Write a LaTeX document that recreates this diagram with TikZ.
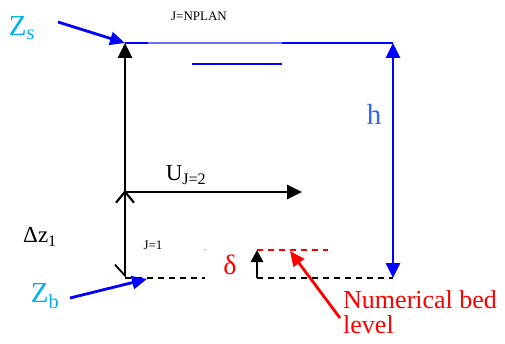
\documentclass[tikz,border=0pt]{standalone}
\usepackage{fontspec}
\setmainfont{Liberation Serif}
\usetikzlibrary{arrows.meta}
\definecolor{zcyan}{RGB}{0,176,240}
\definecolor{hblue}{RGB}{51,102,255}
\definecolor{lightline}{RGB}{110,110,255}
\tikzset{
  big/.style={font=\fontsize{29}{31}\selectfont, inner sep=0pt},
  mid/.style={font=\fontsize{23}{25}\selectfont, inner sep=0pt},
  small/.style={font=\fontsize{13}{15}\selectfont, inner sep=0pt},
  thickblack/.style={line width=2.8pt, -{Triangle[length=15pt,width=14pt]}},
  bluearrow/.style={blue, line width=2.8pt, -{Triangle[length=15pt,width=13pt]}},
  dashline/.style={line width=1.7pt, dash pattern=on 6pt off 5pt},
}
\begin{document}
\begin{tikzpicture}[x=1pt,y=-1pt]
\useasboundingbox (0,0) rectangle (505,344);
% coordinates
\coordinate (TL) at (125,43);
\coordinate (TR) at (393,43);
\coordinate (M) at (125,192);
\coordinate (Uend) at (302,192);
\coordinate (BL) at (125,278);
\coordinate (BR) at (393,278);
\coordinate (D1) at (205,278);
\coordinate (D2) at (257,278);
\coordinate (Dup) at (257,250);
\coordinate (Rend) at (328,250);
\coordinate (Rtip) at (290,251);
\coordinate (S1) at (192,64);
\coordinate (S2) at (282,64);
\coordinate (T1) at (148,43);
\coordinate (T2) at (282,43);
\coordinate (Btip) at (147,279);
% top surface
\draw[lightline, line width=1.1pt] (TL) -- (TR);
\draw[blue, line width=2.3pt] (TL) -- (T1);
\draw[blue, line width=2.3pt] (T2) -- (TR);
\draw[blue, line width=2.3pt] (S1) -- (S2);
% vertical arrow and U arrow
\draw[thickblack] (M) -- (TL);
\draw[thickblack] (M) -- (Uend);
% thin double arrow
\draw[line width=1.2pt, {Straight Barb[harpoon,swap,length=11pt,width=20pt,line width=1.8pt]}-{Straight Barb[length=11pt,width=18pt,line width=2.2pt]}] (BL) -- ([yshift=2pt]M);
% dashed bed lines
\draw[dashline] (BL) -- (D1);
\draw[dashline] (D2) -- (BR);
\draw[red, line width=1.3pt, dash pattern=on 6pt off 5pt] (Dup) -- (Rend);
\fill[red] (205,250) circle (0.7pt);
% delta arrow
\draw[line width=2.8pt, -{Triangle[length=12pt,width=12pt]}] (D2) -- (Dup);
% h arrow
\draw[blue, line width=2.8pt, {Triangle[length=15pt,width=14pt]}-{Triangle[length=15pt,width=14pt]}] (BR) -- (TR);
% labels
\node[big, text=zcyan] (Zs) at (22,28) {Z\textsubscript{s}};
\node[big, text=zcyan] (Zb) at (45,296) {Z\textsubscript{b}};
\node[big, text=hblue] (h) at (374,114) {h};
\node[small] (jn) at (199,16) {J=NPLAN};
\node[small] (j1) at (153,245) {J=1};
\node[mid] (U) at (186,175) {U\textsubscript{J=2}};
\node[mid] (dz) at (40,237) {Δz\textsubscript{1}};
\node[mid, text=red, font=\fontsize{28}{30}\selectfont] (delta) at (230,265) {δ};
\node[text=red, align=left, anchor=north west, inner sep=0pt, font=\fontsize{26}{25}\selectfont] (nb) at (343,290) {Numerical bed\\level};
% pointer arrows
\draw[bluearrow] (58,22) -- (TL);
\draw[bluearrow] (70,298) -- (Btip);
\draw[red, line width=2.8pt, -{Triangle[length=15pt,width=13pt]}] (340,318) -- (Rtip);
\end{tikzpicture}
\end{document}
